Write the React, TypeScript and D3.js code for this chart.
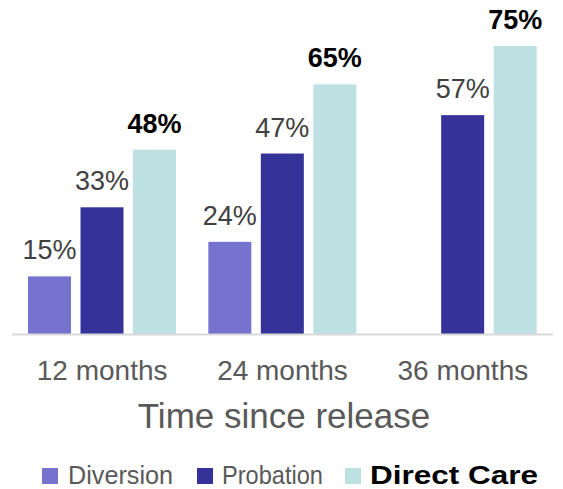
import React from "react";
import * as d3 from "d3";

const categories = ["12 months", "24 months", "36 months"];
const seriesNames = ["Diversion", "Probation", "Direct Care"];
const diversion: (number | null)[] = [15, 24, null];
const probation: (number | null)[] = [33, 47, 57];
const directCare: (number | null)[] = [48, 65, 75];
const seriesValues = [diversion, probation, directCare];
const seriesColors = ["#7673cf", "#353399", "#bde0e3"];
const axisTitle = "Time since release";

const W = 563;
const H = 489;
const FONT = "'Liberation Sans', Arial, Helvetica, sans-serif";

export default function App() {
  const x = d3.scaleBand<string>().domain(categories).range([12, 553]).paddingInner(0).paddingOuter(0);
  const inner = d3
    .scaleBand<string>()
    .domain(seriesNames)
    .range([16, 164])
    .paddingInner(0.181)
    .paddingOuter(0);
  const y = d3.scaleLinear().domain([0, 75]).range([334, 46]);

  const legendSquares = [42, 197, 345];
  const legendText = [68, 222, 370];
  const legendLen = [105, 101, 168];

  return (
    <svg
      width={W}
      height={H}
      style={{ position: "absolute", left: 0, top: 0, background: "#fff" }}
      fontFamily={FONT}
    >
      {seriesValues.map((vals, si) =>
        vals.map((v, ci) => {
          if (v === null) return null;
          const bx = (x(categories[ci]) as number) + (inner(seriesNames[si]) as number);
          const bw = inner.bandwidth();
          const top = y(v);
          const bold = si === 2;
          return (
            <g key={`${si}-${ci}`}>
              <rect x={bx} y={top} width={bw} height={y(0) - top} fill={seriesColors[si]} />
              <text
                x={bx + bw / 2}
                y={top - 17}
                textAnchor="middle"
                fontSize={27}
                fontWeight={bold ? "bold" : "normal"}
                fill={bold ? "#000000" : "#404040"}
              >
                {v}%
              </text>
            </g>
          );
        })
      )}
      <line x1={12} x2={553} y1={334.5} y2={334.5} stroke="#d9d9d9" strokeWidth={2} />
      {categories.map((c) => (
        <text
          key={c}
          x={(x(c) as number) + x.bandwidth() / 2}
          y={380}
          textAnchor="middle"
          fontSize={28}
          fill="#595959"
        >
          {c}
        </text>
      ))}
      <text x={284} y={428} textAnchor="middle" fontSize={35} fill="#595959">
        {axisTitle}
      </text>
      {seriesNames.map((s, i) => (
        <g key={s}>
          <rect x={legendSquares[i]} y={468} width={16} height={16} fill={seriesColors[i]} />
          <text
            x={legendText[i]}
            y={483.5}
            fontSize={26}
            fontWeight={i === 2 ? "bold" : "normal"}
            fill={i === 2 ? "#000000" : "#595959"}
            textLength={legendLen[i]}
            lengthAdjust="spacingAndGlyphs"
          >
            {s}
          </text>
        </g>
      ))}
    </svg>
  );
}
